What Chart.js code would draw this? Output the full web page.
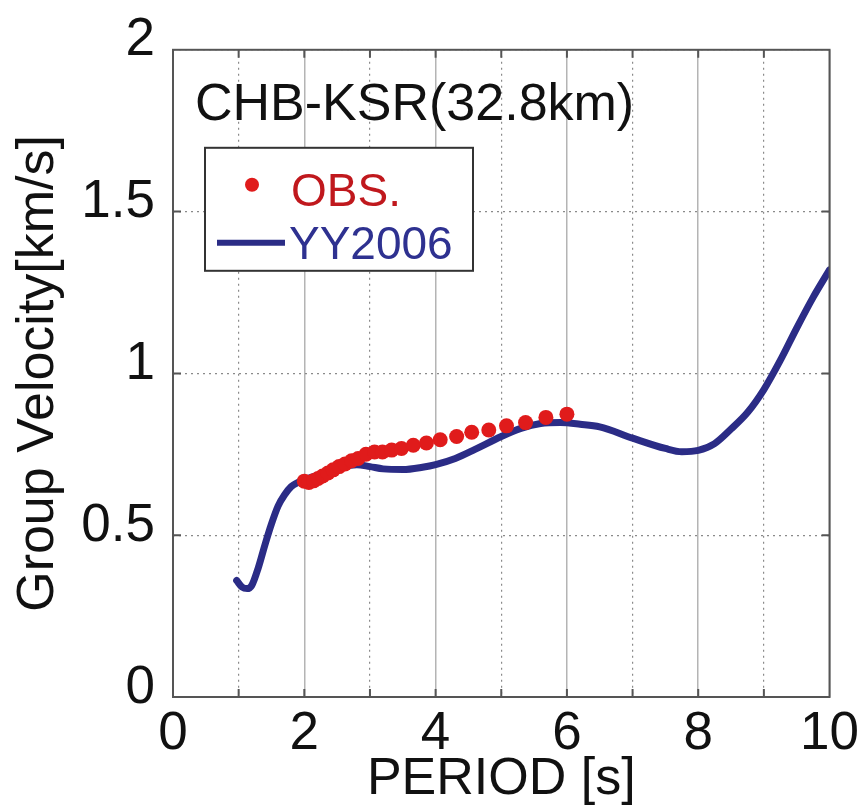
<!DOCTYPE html>
<html>
<head>
<meta charset="utf-8">
<script src="https://cdn.jsdelivr.net/npm/chart.js@4.4.1/dist/chart.umd.min.js"></script>
<style>
  html, body { margin: 0; padding: 0; background: #fff; }
  #wrap { width: 865px; height: 806px; }
</style>
</head>
<body>
<div id="wrap"><canvas id="chartDisp"></canvas></div>
<script>
const chartTitle = 'CHB-KSR(32.8km)'
const xTitle = 'PERIOD [s]'
const yTitle = 'Group Velocity[km/s]'

// observed group velocity (red dots)
const obsPeriod = [2.0, 2.07, 2.14, 2.21, 2.28, 2.36, 2.44, 2.53, 2.62, 2.72, 2.82, 2.94, 3.07, 3.19, 3.33, 3.48, 3.66, 3.86, 4.07, 4.32, 4.55, 4.81, 5.08, 5.37, 5.68, 6.0]
const obsVelocity = [0.667, 0.663, 0.668, 0.675, 0.683, 0.692, 0.702, 0.712, 0.72, 0.73, 0.737, 0.75, 0.757, 0.757, 0.763, 0.768, 0.778, 0.785, 0.795, 0.805, 0.818, 0.825, 0.838, 0.848, 0.864, 0.874]

// YY2006 model curve
const modelPeriod = [0.97, 1.05, 1.13, 1.2, 1.3, 1.4, 1.5, 1.6, 1.7, 1.8, 1.9, 2.0, 2.2, 2.4, 2.6, 2.8, 3.0, 3.2, 3.5, 3.8, 4.0, 4.3, 4.6, 5.0, 5.3, 5.6, 5.9, 6.2, 6.5, 7.0, 7.5, 7.75, 8.0, 8.25, 8.5, 8.75, 9.0, 9.25, 9.5, 9.75, 10.0]
const modelVelocity = [0.36, 0.34, 0.335, 0.345, 0.40, 0.47, 0.535, 0.59, 0.625, 0.65, 0.663, 0.672, 0.685, 0.70, 0.713, 0.718, 0.712, 0.705, 0.703, 0.71, 0.718, 0.737, 0.765, 0.805, 0.83, 0.845, 0.848, 0.843, 0.835, 0.80, 0.768, 0.758, 0.762, 0.783, 0.828, 0.879, 0.95, 1.04, 1.14, 1.235, 1.32]

const xTicks = [0, 2, 4, 6, 8, 10]
const yTicks = [0, 0.5, 1, 1.5, 2]

const FONT = "'Liberation Sans', Arial, sans-serif"
const RED = '#e01b1b'
const NAVY = '#2b2c86'

const toPoints = (xs, ys) => xs.map((x, i) => ({ x, y: ys[i] }))

// frame, inward ticks, title text and the boxed legend
const decorations = {
  id: 'decorations',
  beforeDatasetsDraw (chart) {
    const { ctx, chartArea: a } = chart
    ctx.save()
    ctx.fillStyle = '#111'
    ctx.font = '52px ' + FONT
    ctx.textBaseline = 'alphabetic'
    ctx.fillText(chartTitle, a.left + 22, a.top + 70)
    ctx.restore()
  },
  afterDraw (chart) {
    const { ctx, chartArea: a, scales } = chart
    ctx.save()
    ctx.strokeStyle = '#555'
    ctx.lineWidth = 2
    for (let v = 1; v < 10; v++) {
      const px = scales.x.getPixelForValue(v)
      ctx.beginPath()
      ctx.moveTo(px, a.bottom); ctx.lineTo(px, a.bottom - 8)
      ctx.moveTo(px, a.top); ctx.lineTo(px, a.top + 8)
      ctx.stroke()
    }
    yTicks.slice(1, -1).forEach(v => {
      const py = scales.y.getPixelForValue(v)
      ctx.beginPath()
      ctx.moveTo(a.left, py); ctx.lineTo(a.left + 8, py)
      ctx.moveTo(a.right, py); ctx.lineTo(a.right - 8, py)
      ctx.stroke()
    })
    ctx.strokeRect(a.left, a.top, a.right - a.left, a.bottom - a.top)

    // legend box
    const lx = a.left + 32
    const ly = a.top + 98
    ctx.fillStyle = '#fff'
    ctx.fillRect(lx, ly, 268, 123)
    ctx.strokeStyle = '#333'
    ctx.strokeRect(lx, ly, 268, 123)
    const obs = chart.data.datasets[0]
    const model = chart.data.datasets[1]
    ctx.font = '46px ' + FONT
    ctx.fillStyle = obs.backgroundColor
    ctx.beginPath()
    ctx.arc(lx + 47, ly + 37, 7, 0, Math.PI * 2)
    ctx.fill()
    ctx.fillStyle = '#c0181d'
    ctx.fillText(obs.label, lx + 86, ly + 58)
    ctx.strokeStyle = model.borderColor
    ctx.lineWidth = 6
    ctx.beginPath()
    ctx.moveTo(lx + 12, ly + 95); ctx.lineTo(lx + 80, ly + 95)
    ctx.stroke()
    ctx.fillStyle = '#2e3190'
    ctx.fillText(model.label, lx + 84, ly + 111)
    ctx.restore()
  }
}

const config = {
  type: 'scatter',
  data: {
    datasets: [{
      label: 'OBS.',
      data: toPoints(obsPeriod, obsVelocity),
      backgroundColor: RED,
      borderColor: RED,
      pointRadius: 7.5,
      pointBorderWidth: 0,
      showLine: false
    }, {
      label: 'YY2006',
      data: toPoints(modelPeriod, modelVelocity),
      borderColor: NAVY,
      backgroundColor: NAVY,
      borderWidth: 7,
      pointRadius: 0,
      showLine: true,
      cubicInterpolationMode: 'monotone',
      borderCapStyle: 'round'
    }]
  },
  options: {
    responsive: true,
    maintainAspectRatio: false,
    animation: false,
    layout: { padding: { top: 37, right: 35, left: 0, bottom: 0 } },
    plugins: { legend: { display: false }, tooltip: { enabled: false } },
    scales: {
      x: {
        type: 'linear',
        min: 0,
        max: 10,
        afterFit: s => { s.height = 109 },
        afterBuildTicks: s => { s.ticks = [0, 1, 2, 3, 4, 5, 6, 7, 8, 9, 10].map(v => ({ value: v })) },
        ticks: {
          padding: 6,
          color: '#111',
          font: { family: FONT, size: 53 },
          maxRotation: 0,
          callback: v => (xTicks.includes(v) ? String(v) : '')
        },
        grid: {
          drawTicks: false,
          lineWidth: 1.5,
          color: c => (c.tick && c.tick.value % 2 === 0 ? '#b4b4b4' : 'rgba(0,0,0,0)')
        },
        border: { display: false },
        title: {
          display: true,
          text: xTitle,
          color: '#111',
          font: { family: FONT, size: 52, lineHeight: 1 },
          padding: { top: 0, bottom: 0 }
        }
      },
      xMinor: {
        type: 'linear',
        position: 'bottom',
        min: 0,
        max: 10,
        afterFit: s => { s.height = 0 },
        ticks: { display: false, stepSize: 1 },
        grid: {
          drawTicks: false,
          lineWidth: 1.2,
          color: c => (c.tick && c.tick.value % 2 === 1 ? '#8a8a8a' : 'rgba(0,0,0,0)')
        },
        border: { display: false, dash: [2, 4] }
      },
      y: {
        type: 'linear',
        min: 0,
        max: 2,
        afterFit: s => { s.width = 173 },
        afterBuildTicks: s => { s.ticks = yTicks.map(v => ({ value: v })) },
        ticks: {
          padding: 18,
          labelOffset: -9,
          color: '#111',
          font: { family: FONT, size: 53 },
          callback: v => String(v)
        },
        grid: { drawTicks: false, lineWidth: 1.2, color: '#8a8a8a' },
        border: { display: false, dash: [2, 4] },
        title: {
          display: true,
          text: yTitle,
          color: '#111',
          font: { family: FONT, size: 52 },
          padding: { top: 7, bottom: 0 }
        }
      }
    }
  },
  plugins: [decorations]
}

const canvas = document.getElementById('chartDisp').getContext('2d')
window.groupVel = new Chart(canvas, config)
</script>
</body>
</html>
